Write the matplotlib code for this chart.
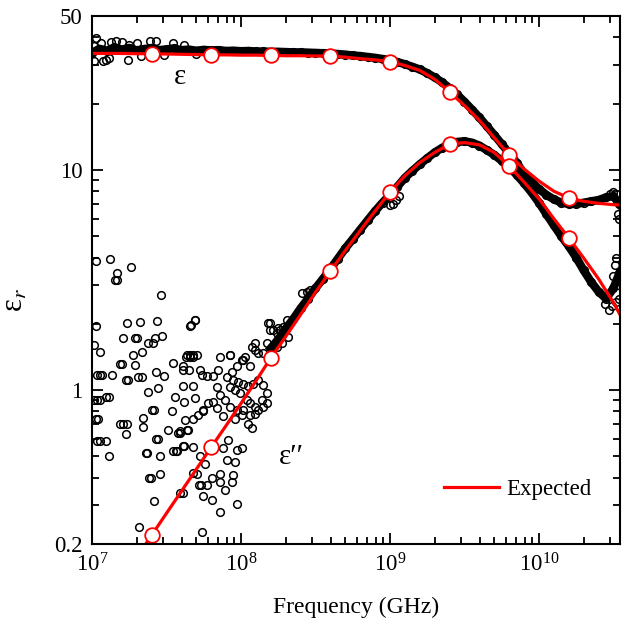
import numpy as np
import matplotlib
matplotlib.use("Agg")
import matplotlib.pyplot as plt
from matplotlib.ticker import LogLocator, FixedLocator, NullFormatter

plt.rcParams["font.family"] = ["Liberation Serif", "DejaVu Serif"]
plt.rcParams["mathtext.fontset"] = "stix"

# expected (model) curves, log10 frequency
logf_fit = [7.0, 7.1, 7.2, 7.3, 7.4, 7.5, 7.6, 7.7, 7.8, 7.9, 8.0, 8.1, 8.2, 8.3,
            8.4, 8.5, 8.6, 8.7, 8.8, 8.9, 9.0, 9.1, 9.2, 9.3, 9.4, 9.5, 9.6, 9.7,
            9.8, 9.9, 10.0, 10.1, 10.2, 10.3, 10.4, 10.5, 10.544]
eps1_fit = [33.8, 33.8, 33.8, 33.7, 33.7, 33.6, 33.5, 33.4, 33.3, 33.3, 33.2, 33.2,
            33.1, 33.0, 33.0, 32.9, 32.9, 32.5, 32.0, 31.6, 31.0, 29.8, 28.3, 25.8,
            22.6, 19.6, 16.8, 14.0, 11.7, 10.1, 8.9, 8.0, 7.46, 7.2, 7.05, 6.95, 6.93]
eps2_fit = [0.087, 0.11, 0.138, 0.174, 0.219, 0.276, 0.347, 0.437, 0.55, 0.69, 0.87,
            1.10, 1.40, 1.75, 2.2, 2.78, 3.47, 4.3, 5.3, 6.5, 7.94, 9.4, 10.8, 12.0,
            13.1, 13.3, 13.0, 12.0, 10.4, 8.8, 7.4, 6.0, 4.91, 3.98, 3.2, 2.5, 2.2]
fit_marks = [4, 8, 12, 16, 20, 24, 28, 32]

# measured real part (dense band)
logf_m1 = [7.00, 7.05, 7.10, 7.15, 7.20, 7.25, 7.30, 7.35, 7.40, 7.45, 7.50, 7.55,
           7.60, 7.65, 7.70, 7.75, 7.80, 7.85, 7.90, 7.95, 8.00, 8.05, 8.10, 8.15,
           8.20, 8.25, 8.30, 8.35, 8.40, 8.45, 8.50, 8.55, 8.60, 8.65, 8.70, 8.75,
           8.80, 8.85, 8.90, 8.95, 9.00, 9.05, 9.10, 9.15, 9.20, 9.25, 9.30, 9.35,
           9.40, 9.45, 9.50, 9.55, 9.60, 9.65, 9.70, 9.75, 9.80, 9.85, 9.90, 9.95,
           10.00, 10.05, 10.10, 10.15, 10.20, 10.25, 10.30, 10.35, 10.40, 10.45,
           10.50, 10.54]
eps1_m = [34.0, 35.5, 34.8, 36.0, 35.2, 35.8, 34.9, 35.4, 35.8, 35.0, 35.3, 35.6,
          35.0, 35.2, 34.8, 35.1, 34.9, 35.0, 34.7, 34.8, 34.6, 34.7, 34.5, 34.5,
          34.4, 34.4, 34.3, 34.2, 34.2, 34.1, 34.0, 33.9, 33.8, 33.6, 33.4, 33.1,
          32.9, 32.6, 32.3, 31.9, 31.5, 30.9, 30.2, 29.4, 28.6, 27.5, 26.3, 25.0,
          23.5, 22.0, 20.4, 18.8, 17.3, 15.8, 14.4, 13.1, 11.9, 10.8, 9.6, 8.8,
          8.2, 7.7, 7.35, 7.1, 7.0, 7.0, 7.1, 7.2, 7.3, 7.5, 7.6, 7.0]

# scattered real-part points
logf_s1 = [7.029, 7.015, 7.071, 7.094, 7.116, 7.242, 7.387, 7.432, 7.130, 7.160,
           7.200, 7.544, 7.300, 7.060, 7.010, 7.330, 7.480, 7.620, 7.700, 7.250,
           10.53, 10.54, 10.50, 10.48]
eps1_s = [39.7, 31.1, 31.1, 31.6, 32.2, 31.6, 38.3, 38.3, 38.0, 38.5,
          38.0, 37.7, 37.8, 37.5, 36.5, 33.0, 33.2, 36.8, 33.6, 36.9,
          6.3, 6.0, 7.9, 7.8]

# measured imaginary part (dense band)
logf_m2 = [8.20, 8.25, 8.30, 8.35, 8.40, 8.45, 8.50, 8.55, 8.60, 8.65, 8.70, 8.75,
           8.80, 8.85, 8.90, 8.95, 9.00, 9.05, 9.10, 9.15, 9.20, 9.25, 9.30, 9.35,
           9.40, 9.45, 9.50, 9.55, 9.60, 9.65, 9.70, 9.75, 9.80, 9.85, 9.90, 9.95,
           10.00, 10.05, 10.10, 10.15, 10.20, 10.25, 10.30, 10.35, 10.40, 10.45,
           10.50, 10.54]
eps2_m = [1.55, 1.70, 1.90, 2.10, 2.35, 2.60, 2.90, 3.20, 3.55, 3.95, 4.40, 4.85,
          5.35, 5.90, 6.50, 7.10, 7.70, 8.40, 9.20, 9.90, 10.6, 11.3, 12.0, 12.6,
          13.1, 13.4, 13.5, 13.3, 12.9, 12.3, 11.7, 11.0, 10.3, 9.5, 8.7, 7.9,
          7.1, 6.3, 5.6, 5.0, 4.5, 4.0, 3.5, 3.1, 2.8, 2.6, 2.9, 3.4]

# scattered imaginary-part points
logf_s2 = [7.025, 7.121, 7.262, 7.166, 7.154, 7.170, 7.463, 7.691, 7.658, 7.025,
           7.233, 7.322, 7.438, 7.468, 7.423, 7.378, 7.408, 7.210, 7.289, 7.304,
           7.015, 7.054, 7.188, 7.199, 7.273, 7.333, 7.289, 7.226, 7.240, 7.036,
           7.054, 7.069, 7.136, 7.311, 7.333, 7.430, 7.483, 7.378, 7.445, 7.546,
           7.608, 7.631, 7.658, 7.680, 7.653, 7.725, 7.736, 7.680, 7.613, 7.557,
           7.535, 7.619, 7.691, 7.015, 7.031, 7.054, 7.094, 7.116, 7.027, 7.042,
           7.188, 7.210, 7.233, 7.228, 7.031, 7.054, 7.094, 7.116, 7.340, 7.400,
           7.416, 7.430, 7.445, 7.456, 7.360, 7.371, 7.456, 7.385, 7.396, 7.416,
           7.318, 7.741, 7.508, 7.579, 7.590, 7.635, 7.646, 7.608, 7.619, 7.675,
           7.546, 7.564, 7.590, 7.608, 7.680, 7.720, 7.731, 7.743, 7.743, 7.344,
           7.662, 7.691, 7.635, 7.658, 7.680, 7.702, 7.613, 7.769, 7.814, 7.848,
           7.926, 7.859, 7.904, 7.937, 7.971, 8.004, 8.027, 8.072, 8.094, 8.116,
           8.150, 8.172, 8.195, 8.195, 8.240, 8.262, 8.284, 8.307, 8.240, 8.273,
           7.948, 7.982, 8.015, 8.049, 8.083, 8.116, 8.150, 8.172, 8.139, 7.926,
           7.960, 7.993, 8.038, 8.060, 8.094, 8.116, 8.150, 8.172, 7.837, 7.859,
           7.893, 7.926, 7.971, 8.015, 8.060, 8.094, 7.814, 7.837, 7.881, 7.960,
           8.004, 8.049, 8.072, 7.747, 7.781, 7.713, 7.680, 7.624, 7.591, 7.568,
           7.881, 7.915, 7.971, 8.004, 7.960, 7.904, 7.859, 7.948, 7.937, 7.859,
           7.893, 7.971, 7.859, 7.803, 7.769, 7.725, 7.758, 7.703, 7.803, 7.926,
           8.183, 8.217, 8.250, 8.284, 8.317, 8.407, 8.440, 8.463, 8.094, 8.015,
           8.060, 9.000, 9.020, 9.040, 9.060, 10.47, 10.49, 10.50, 10.51, 10.52,
           10.53, 10.54, 10.52, 10.44, 10.46]
eps2_s = [3.86, 3.93, 3.61, 3.39, 3.16, 3.16, 2.69, 2.09, 1.96, 1.96,
          2.01, 2.03, 2.07, 1.76, 1.73, 1.63, 1.63, 1.72, 1.72, 1.72,
          1.60, 1.49, 1.32, 1.32, 1.44, 1.49, 1.30, 1.11, 1.11, 1.17,
          1.17, 1.17, 1.17, 1.15, 1.15, 1.21, 1.16, 0.98, 1.02, 1.33,
          1.28, 1.41, 1.41, 1.41, 1.23, 1.23, 1.17, 1.04, 1.04, 0.93,
          0.80, 0.885, 0.92, 0.90, 0.90, 0.90, 0.93, 0.93, 0.74, 0.74,
          0.705, 0.705, 0.705, 0.63, 0.59, 0.59, 0.59, 0.50, 0.68, 0.81,
          0.81, 0.60, 0.60, 0.50, 0.52, 0.52, 0.415, 0.40, 0.40, 0.314,
          0.238, 0.226, 0.66, 0.64, 0.64, 0.66, 0.66, 0.56, 0.56, 0.55,
          0.53, 0.53, 0.34, 0.34, 0.42, 0.37, 0.37, 0.33, 0.80, 0.75,
          1.97, 2.08, 1.44, 1.44, 1.44, 1.44, 1.23, 1.16, 1.16, 1.23,
          1.44, 1.42, 1.15, 1.21, 1.28, 1.37, 1.42, 1.57, 1.52, 1.47,
          1.47, 1.63, 2.01, 1.87, 1.81, 1.87, 1.94, 2.08, 1.57, 1.63,
          1.11, 1.09, 1.07, 1.04, 1.07, 1.11, 1.05, 0.97, 0.90, 1.03,
          1.00, 0.97, 0.90, 0.87, 0.84, 0.81, 0.84, 0.87, 1.03, 0.95,
          0.90, 0.84, 0.81, 0.81, 0.77, 0.78, 0.885, 0.825, 0.76, 0.74,
          0.77, 0.705, 0.67, 0.81, 0.87, 0.77, 0.74, 0.73, 0.65, 0.53,
          0.543, 0.593, 0.533, 0.543, 0.472, 0.481, 0.418, 0.411, 0.383, 0.383,
          0.351, 0.305, 0.28, 0.316, 0.37, 0.50, 0.46, 0.418, 0.40, 1.44,
          2.01, 1.87, 1.91, 1.81, 1.75, 2.75, 2.80, 2.85, 1.63, 1.37,
          1.28, 6.9, 7.0, 7.3, 7.6, 2.3, 2.4, 3.3, 3.7, 4.0,
          3.0, 2.6, 2.5, 2.45, 2.7]


def hz(logf):
    return 10.0 ** np.array(logf)


fig = plt.figure(figsize=(6.23, 6.22), dpi=100)
ax = fig.add_axes([0.1477, 0.1254, 0.8475, 0.8489])

band = dict(color="black", lw=6, marker="o", ms=5.5, mfc="none", mec="black", mew=1.1)
dots = dict(ls="none", marker="o", ms=5.5, mfc="none", mec="black", mew=1.1)

ax.plot(hz(logf_m1), eps1_m, **band)
ax.plot(hz(logf_s1), eps1_s, **dots)
ax.plot(hz(logf_m2), eps2_m, **band)
ax.plot(hz(logf_s2), eps2_s, **dots)

fit = dict(color="red", lw=2.3, marker="o", ms=10.5, mfc="white", mec="red", mew=1.3,
           markevery=fit_marks)
ax.plot(hz(logf_fit), eps1_fit, **fit)
ax.plot(hz(logf_fit), eps2_fit, **fit)

# legend entry (line only)
ax.plot([], [], color="red", lw=2.3, label="Expected")
ax.legend(loc="center right", bbox_to_anchor=(0.985, 0.104), frameon=False,
          fontsize=16.5, handlelength=2.4, handletextpad=0.3)

ax.set_xscale("log")
ax.set_yscale("log")
ax.set_xlim(1e7, 3.5e10)
ax.set_ylim(0.2, 50)

ax.xaxis.set_major_locator(LogLocator(base=10, numticks=10))
ax.xaxis.set_minor_locator(LogLocator(base=10, subs=np.arange(2, 10), numticks=20))
ax.xaxis.set_minor_formatter(NullFormatter())
ax.yaxis.set_major_locator(FixedLocator([0.2, 1, 10, 50]))
ax.set_yticklabels(["0.2", "1", "10", "50"])
ax.yaxis.set_minor_locator(FixedLocator([0.3, 0.4, 0.5, 0.6, 0.7, 0.8, 0.9,
                                         2, 3, 4, 5, 6, 7, 8, 9, 20, 30, 40]))
ax.yaxis.set_minor_formatter(NullFormatter())

ax.tick_params(which="both", direction="in", top=True, right=True, labelsize=16.5,
               width=1.3)
ax.tick_params(which="major", length=8, pad=7)
ax.tick_params(which="minor", length=5)
for s in ax.spines.values():
    s.set_linewidth(1.5)

ax.set_xlabel("Frequency (GHz)", fontsize=17, labelpad=14)
ax.set_ylabel(r"ε$_{r}$", fontsize=22)
ax.yaxis.set_label_coords(-0.117, 0.462)

ax.text(3.9e7, 26.5, "ε", fontsize=21, ha="center", va="center")
ax.text(2.17e8, 0.496, "ε′′", fontsize=21, ha="center", va="center")

fig.savefig("out.png", dpi=100)
